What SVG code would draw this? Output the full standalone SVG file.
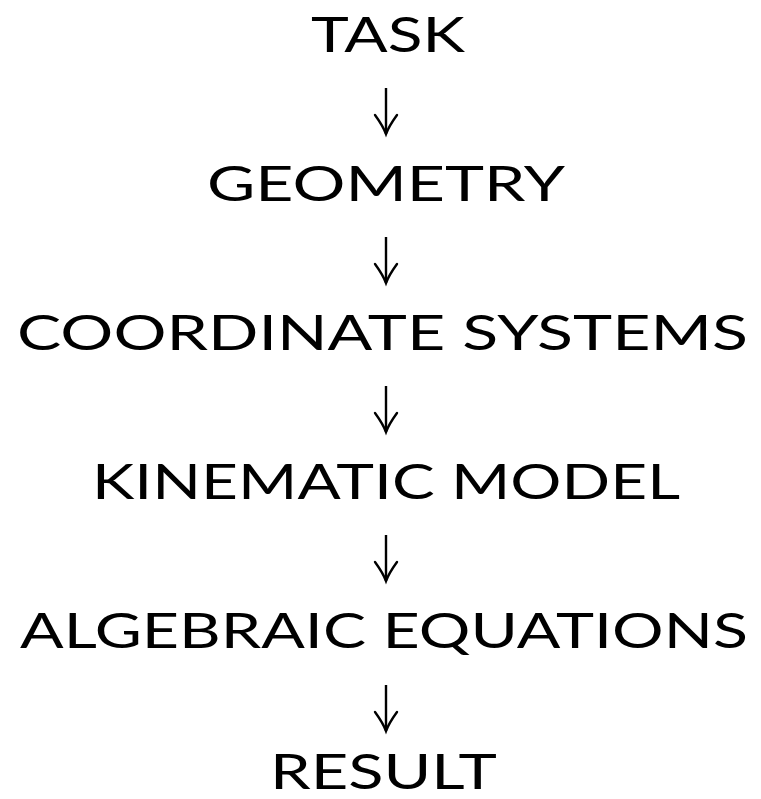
<svg xmlns="http://www.w3.org/2000/svg" width="761" height="799" viewBox="0 0 761 799">
<style>
  .lbl { font-family: "Lato", "DejaVu Sans", sans-serif; font-size: 48px; fill: #000; text-anchor: start; }
  .arr { stroke: #000; stroke-width: 2.4; fill: none; marker-end: url(#head); }
</style>
<defs>
  <marker id="head" markerUnits="userSpaceOnUse" viewBox="-20 -14 22 28" refX="0" refY="0" markerWidth="22" markerHeight="28" orient="auto" overflow="visible">
    <path d="M-19,-11 Q-8,-3 0,0 Q-8,3 -19,11" fill="none" stroke="#000" stroke-width="2.4" stroke-linecap="round"/>
  </marker>
</defs>
<rect width="761" height="799" fill="#fff"/>
<g id="task"><text class="lbl" x="311" y="52" textLength="154" lengthAdjust="spacingAndGlyphs">TASK</text></g>
<g id="geometry"><text class="lbl" x="207" y="201" textLength="358" lengthAdjust="spacingAndGlyphs">GEOMETRY</text></g>
<g id="coordinate-systems"><text class="lbl" x="17" y="350" textLength="731" lengthAdjust="spacingAndGlyphs">COORDINATE SYSTEMS</text></g>
<g id="kinematic-model"><text class="lbl" x="92" y="499" textLength="588" lengthAdjust="spacingAndGlyphs">KINEMATIC MODEL</text></g>
<g id="algebraic-equations"><text class="lbl" x="20" y="648" textLength="728" lengthAdjust="spacingAndGlyphs">ALGEBRAIC EQUATIONS</text></g>
<g id="result"><text class="lbl" x="270" y="789" textLength="227" lengthAdjust="spacingAndGlyphs">RESULT</text></g>
<g id="connectors">
  <path class="arr" d="M386,88 V134"/>
  <path class="arr" d="M386,237 V283"/>
  <path class="arr" d="M386,386 V432"/>
  <path class="arr" d="M386,535 V581"/>
  <path class="arr" d="M386,685 V731"/>
</g>
</svg>
